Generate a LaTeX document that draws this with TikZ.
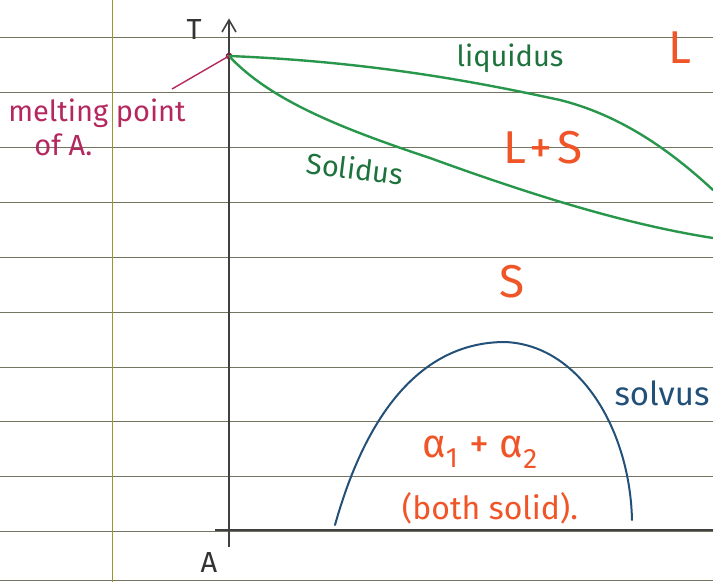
\documentclass[tikz,border=0pt]{standalone}
\usepackage{fontspec}
\setmainfont{Fira Sans}
\definecolor{rule}{RGB}{115,115,95}
\definecolor{margin}{RGB}{150,150,50}
\definecolor{curvegreen}{RGB}{40,150,75}
\definecolor{textgreen}{RGB}{30,115,60}
\definecolor{phasered}{RGB}{240,85,40}
\definecolor{notepink}{RGB}{180,40,95}
\definecolor{solvblue}{RGB}{35,80,120}
\begin{document}
\begin{tikzpicture}[x=1pt, y=-1pt,
    ruled/.style={rule, line width=1pt},
    curve/.style={line width=2.4pt, line cap=round},
    phase/.style={phasered, font=\fontsize{46}{46}\selectfont\addfontfeature{LetterSpace=15}},
    hand/.style={font=\fontsize{29}{34}\selectfont, inner sep=1pt}]
    \useasboundingbox (0,0) rectangle (713,582);
    \fill[white] (0,0) rectangle (713,582);

    % Линейки тетради
    \foreach \y in {37,92,147,202,257,312,367,421,476,531,580}
        \draw[ruled] (0,\y) -- (713,\y);
    % Поле
    \draw[margin, line width=1pt] (112,0) -- (112,582);

    % Оси
    \draw[line width=1.6pt, black!75] (229,547) -- (229,22);
    \draw[line width=1.6pt, black!75] (222,32) -- (229,20) -- (236,32);
    \draw[line width=1.6pt, black!75] (215,530) -- (713,530);
    \node[hand, black!80] (tlab) at (194,30) {T};
    \node[hand, black!80] (alab) at (209,563) {A};

    % Точка плавления A
    \coordinate (mp) at (229,56);
    \draw[notepink!70!black, line width=1.5pt] (mp) circle (2.5);

    % Ликвидус
    \draw[curvegreen, curve] (mp) .. controls (380,62) and (490,85) .. (560,100)
        .. controls (620,115) and (670,150) .. (713,190);
    % Солидус
    \draw[curvegreen, curve] (mp) .. controls (270,100) and (340,128) .. (430,158)
        .. controls (540,198) and (630,225) .. (713,238);
    % Сольвус
    \draw[solvblue, line width=2pt, line cap=round] (335,525)
        .. controls (370,400) and (430,342) .. (505,342)
        .. controls (580,345) and (630,430) .. (632,520);

    % Подписи
    \node[hand, textgreen] (liq) at (510,58) {liquidus};
    \node[hand, textgreen, rotate=-7] (sol) at (355,168) {Solidus};
    \node[hand, solvblue, font=\fontsize{33}{33}\selectfont] (solv) at (662,393) {solvus};
    \node[phase] (lreg) at (680,48) {L};
    \node[phase] (lsreg) at (543,148) {L+S};
    \node[phase] (sreg) at (512,282) {S};
    \node[phasered, font=\fontsize{40}{40}\selectfont] (alph) at (480,452) {α\textsubscript{1} + α\textsubscript{2}};
    \node[hand, phasered, font=\fontsize{32}{32}\selectfont] (both) at (490,508) {(both solid).};

    % Подпись точки плавления
    \node[hand, notepink, align=left] (mplab) at (97,127) {melting point\\\hspace*{26pt}of A.};
    \draw[notepink, line width=1.4pt] (172,89) -- (mp);
\end{tikzpicture}
\end{document}
